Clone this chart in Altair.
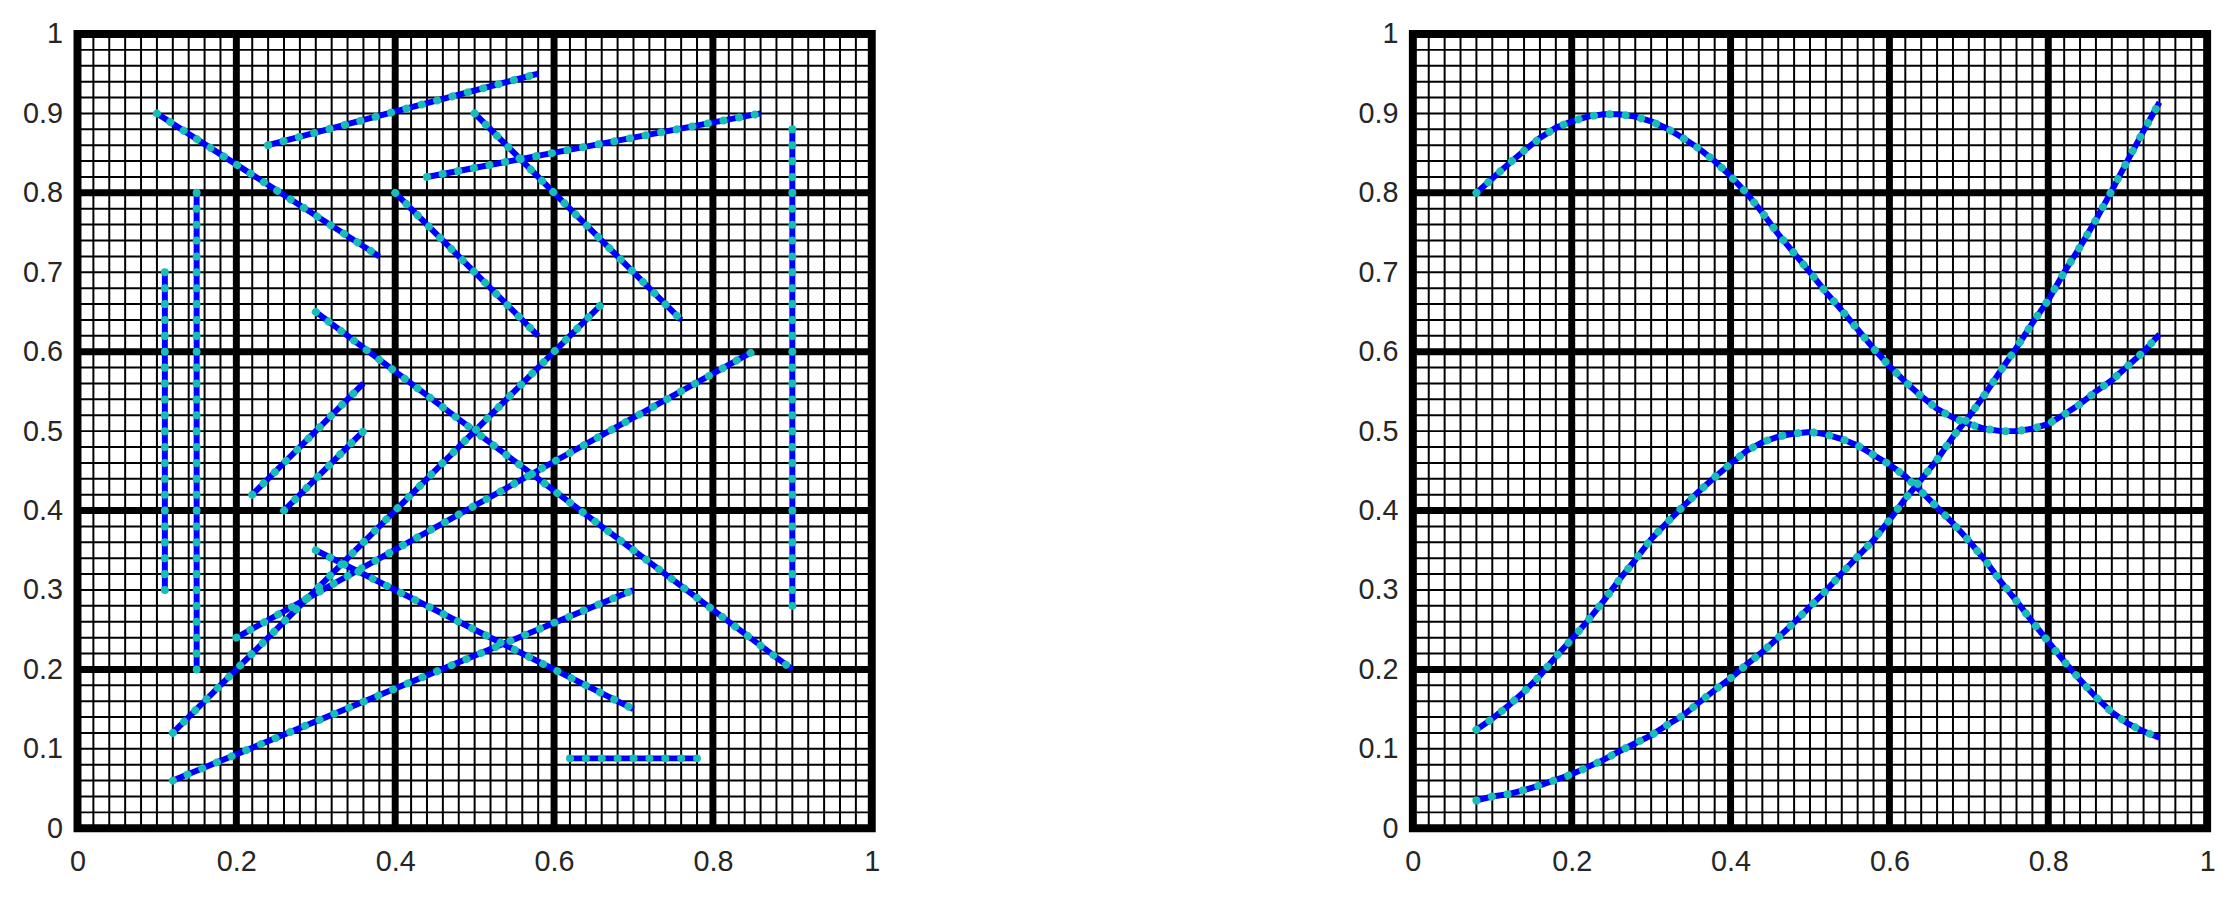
import altair as alt
import pandas as pd

# ---------------- left panel: straight segments ----------------
seg_id = list(range(1, 17))
seg_x0 = [0.10, 0.24, 0.50, 0.44, 0.40, 0.90, 0.15, 0.11, 0.30, 0.12, 0.22, 0.26, 0.20, 0.30, 0.12, 0.62]
seg_y0 = [0.90, 0.86, 0.90, 0.82, 0.80, 0.88, 0.80, 0.70, 0.65, 0.12, 0.42, 0.40, 0.24, 0.35, 0.06, 0.088]
seg_x1 = [0.38, 0.58, 0.76, 0.86, 0.58, 0.90, 0.15, 0.11, 0.90, 0.66, 0.36, 0.36, 0.85, 0.70, 0.70, 0.78]
seg_y1 = [0.72, 0.95, 0.64, 0.90, 0.62, 0.28, 0.20, 0.30, 0.20, 0.66, 0.56, 0.50, 0.60, 0.15, 0.30, 0.088]

# ---------------- right panel: curves ----------------
curve_x = [0.08, 0.10, 0.12, 0.14, 0.16, 0.18, 0.20, 0.22, 0.24, 0.26, 0.28, 0.30,
           0.32, 0.34, 0.36, 0.38, 0.40, 0.42, 0.44, 0.46, 0.48, 0.50, 0.52, 0.54,
           0.56, 0.58, 0.60, 0.62, 0.64, 0.66, 0.68, 0.70, 0.72, 0.74, 0.76, 0.78,
           0.80, 0.82, 0.84, 0.86, 0.88, 0.90, 0.92, 0.94]
curve_a = [0.800, 0.818, 0.836, 0.853, 0.869, 0.882, 0.890, 0.896, 0.899, 0.899, 0.896, 0.890,
           0.881, 0.869, 0.856, 0.840, 0.821, 0.800, 0.775, 0.748, 0.724, 0.700, 0.675, 0.652,
           0.628, 0.604, 0.582, 0.562, 0.544, 0.528, 0.517, 0.509, 0.503, 0.500, 0.500, 0.503,
           0.509, 0.521, 0.534, 0.550, 0.564, 0.582, 0.600, 0.622]
curve_b = [0.124, 0.138, 0.154, 0.172, 0.192, 0.216, 0.238, 0.261, 0.286, 0.313, 0.338, 0.364,
           0.385, 0.405, 0.424, 0.442, 0.459, 0.475, 0.486, 0.493, 0.497, 0.499, 0.496, 0.490,
           0.482, 0.470, 0.458, 0.443, 0.424, 0.404, 0.384, 0.362, 0.338, 0.311, 0.286, 0.260,
           0.235, 0.210, 0.187, 0.165, 0.146, 0.132, 0.122, 0.114]
curve_c = [0.035, 0.040, 0.043, 0.048, 0.054, 0.061, 0.068, 0.077, 0.086, 0.097, 0.107, 0.117,
           0.130, 0.142, 0.158, 0.174, 0.189, 0.206, 0.222, 0.240, 0.259, 0.279, 0.299, 0.321,
           0.342, 0.363, 0.388, 0.415, 0.439, 0.464, 0.493, 0.518, 0.546, 0.576, 0.605, 0.636,
           0.665, 0.700, 0.732, 0.766, 0.803, 0.841, 0.878, 0.914]

x_ticks = [0, 0.2, 0.4, 0.6, 0.8, 1]
y_ticks = [0, 0.1, 0.2, 0.3, 0.4, 0.5, 0.6, 0.7, 0.8, 0.9, 1]

# ---------------- tables ----------------
rows = []
for s, a, b, c, d in zip(seg_id, seg_x0, seg_y0, seg_x1, seg_y1):
    rows.append({"seg": s, "i": 0, "x": a, "y": b})
    rows.append({"seg": s, "i": 1, "x": c, "y": d})
seg_df = pd.DataFrame(rows)

crows = []
for name, yv_list in [("a", curve_a), ("b", curve_b), ("c", curve_c)]:
    for i, (xv, yv) in enumerate(zip(curve_x, yv_list)):
        crows.append({"seg": name, "i": i, "x": xv, "y": yv})
curve_df = pd.DataFrame(crows)

minor_df = pd.DataFrame({"v": [round(i * 0.02, 2) for i in range(1, 50)]})
major_df = pd.DataFrame({"v": [0.2, 0.4, 0.6, 0.8]})

FONT = "Liberation Sans"
FS = 29
LC = "#262626"

xs = alt.Scale(domain=[0, 1], nice=False, zero=False)
ys = alt.Scale(domain=[0, 1], nice=False, zero=False)
x_axis = alt.Axis(values=x_ticks, format="~g", labelPadding=20, title=None,
                  labelFont=FONT, labelFontSize=FS, labelColor=LC,
                  domain=False, ticks=False, grid=False, labelFlush=False, labelOverlap=False)
y_axis = alt.Axis(values=y_ticks, format="~g", labelPadding=15, title=None,
                  labelFont=FONT, labelFontSize=FS, labelColor=LC,
                  domain=False, ticks=False, grid=False, labelFlush=False, labelOverlap=False,
                  minExtent=66, maxExtent=66)

BLUE = "#0000FF"
CYAN = "#17BEB8"


def panel(df):
    vminor = alt.Chart(minor_df).mark_rule(color="black", strokeWidth=2).encode(
        x=alt.X("v:Q", scale=xs, axis=x_axis, title=None))
    hminor = alt.Chart(minor_df).mark_rule(color="black", strokeWidth=2).encode(
        y=alt.Y("v:Q", scale=ys, axis=y_axis, title=None))
    vmajor = alt.Chart(major_df).mark_rule(color="black", strokeWidth=7).encode(
        x=alt.X("v:Q", scale=xs, axis=x_axis, title=None))
    hmajor = alt.Chart(major_df).mark_rule(color="black", strokeWidth=7).encode(
        y=alt.Y("v:Q", scale=ys, axis=y_axis, title=None))
    enc = dict(
        x=alt.X("x:Q", scale=xs, axis=x_axis, title=None),
        y=alt.Y("y:Q", scale=ys, axis=y_axis, title=None),
        detail="seg:N",
        order="i:Q",
    )
    blue = alt.Chart(df).mark_line(color=BLUE, strokeWidth=6, strokeCap="butt").encode(**enc)
    cyan = alt.Chart(df).mark_line(color=CYAN, strokeWidth=8, strokeCap="round",
                                   strokeDash=[0.1, 15.9]).encode(**enc)
    return alt.layer(vminor, hminor, vmajor, hmajor, blue, cyan).properties(width=800, height=800)


chart = alt.hconcat(panel(seg_df), panel(curve_df), spacing=462).properties(
    padding={"left": 0, "top": 5, "right": 5, "bottom": 5}
).configure_view(
    stroke="black", strokeWidth=8
)

chart.save("out.html", embed_options={"renderer": "svg", "actions": False})
